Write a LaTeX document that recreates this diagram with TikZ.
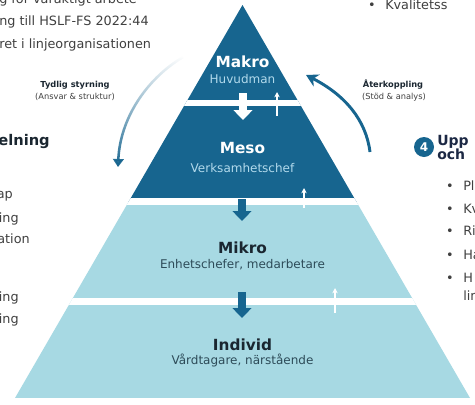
\documentclass[tikz,border=0pt]{standalone}
\usepackage{fontspec}
\setmainfont{DejaVu Sans}
\usetikzlibrary{arrows.meta,fadings}
\definecolor{pyrdark}{RGB}{23,101,143}
\definecolor{pyrlight}{RGB}{167,217,227}
\definecolor{sidetext}{RGB}{64,64,64}
\definecolor{subdark}{RGB}{178,218,236}
\definecolor{sublight}{RGB}{45,75,88}
\definecolor{headtext}{RGB}{26,38,48}
\definecolor{navy}{RGB}{28,40,68}

\begin{document}
\begin{tikzpicture}[x=0.75pt,y=-0.75pt,
  side/.style={text=sidetext,font=\fontsize{9.6}{11}\selectfont,inner sep=0pt},
  level/.style={font=\bfseries\fontsize{11.5}{13}\selectfont,inner sep=0pt,anchor=base},
  sub/.style={font=\fontsize{9}{11}\selectfont,inner sep=0pt,anchor=base},
  small/.style={font=\fontsize{6.2}{7}\selectfont,inner sep=0pt},
  blockarrow/.style={line width=6pt,-{Triangle[width=14pt,length=7.5pt]}},
  thinup/.style={white,line width=1pt,-{Stealth[length=4pt,width=4pt]}}]
\useasboundingbox (0,0) rectangle (475,404);
\fill[white] (0,0) rectangle (475,404);

%pyramid
\begin{scope}
\clip (242.5,5) -- (470,398) -- (15,398) -- cycle;
\fill[pyrdark] (0,0) rectangle (475,201.5);
\fill[pyrlight] (0,201.5) rectangle (475,398);
\draw[white,line width=4.9pt] (0,103) -- (475,103);
\draw[white,line width=4.9pt] (0,201.5) -- (475,201.5);
\draw[white,line width=4.9pt] (0,301.5) -- (475,301.5);
\end{scope}

%level labels
\node[level,white] (makro) at (242.5,67) {Makro};
\node[sub,subdark] (huvudman) at (242.5,83) {Huvudman};
\node[level,white] (meso) at (242.5,153) {Meso};
\node[sub,subdark] (vchef) at (242.5,172) {Verksamhetschef};
\node[level,headtext] (mikro) at (242.5,253) {Mikro};
\node[sub,sublight] (ehchef) at (242.5,268) {Enhetschefer, medarbetare};
\node[level,headtext] (individ) at (242.5,350) {Individ};
\node[sub,sublight] (vtagare) at (242.5,364) {Vårdtagare, närstående};

%down arrows
\coordinate (d1a) at (243,93);  \coordinate (d1b) at (243,120);
\coordinate (d2a) at (242,199); \coordinate (d2b) at (242,221);
\coordinate (d3a) at (242,292); \coordinate (d3b) at (242,318);
\draw[blockarrow,white] (d1a) -- (d1b);
\draw[blockarrow,pyrdark] (d2a) -- (d2b);
\draw[blockarrow,pyrdark] (d3a) -- (d3b);

%up arrows
\coordinate (u1a) at (277,116); \coordinate (u1b) at (277,92);
\coordinate (u2a) at (304,208); \coordinate (u2b) at (304,188);
\coordinate (u3a) at (335,313); \coordinate (u3b) at (335,288);
\draw[thinup] (u1a) -- (u1b);
\draw[thinup] (u2a) -- (u2b);
\draw[thinup] (u3a) -- (u3b);

%curved arrows
\coordinate (styrA) at (183,57);
\coordinate (styrB) at (118,167);
\draw[pyrdark,line width=1.9pt,path fading=north,-{Triangle[width=8pt,length=6pt]}]
  (styrA) .. controls (145,80) and (120,120) .. (styrB);
\coordinate (aterA) at (370,152);
\coordinate (aterB) at (306,75);
\draw[pyrdark,line width=2.2pt,-{Stealth[width=10pt,length=9pt]}]
  (aterA) .. controls (366,120) and (345,95) .. (aterB);
\node[small,font=\bfseries\fontsize{6.2}{7}\selectfont,text=headtext] (tydlig) at (75,85) {Tydlig styrning};
\node[small,text=sidetext] (ansvar) at (75,97) {(Ansvar \& struktur)};
\node[small,font=\bfseries\fontsize{6.2}{7}\selectfont,text=headtext] (ater) at (393,85) {Återkoppling};
\node[small,text=sidetext] (stod) at (394,97) {(Stöd \& analys)};

%left text
\node[side,anchor=base west] (l1) at (-1,3) {g för varaktigt arbete};
\node[side,anchor=base west] (l2) at (-1,25) {ng till HSLF-FS 2022:44};
\node[side,anchor=base west] (l3) at (-1,48) {ret i linjeorganisationen};
\node[side,anchor=base east,text=headtext,font=\bfseries\fontsize{11}{13}\selectfont] (delning) at (50,145) {delning};
\node[side,anchor=base east] (f1) at (13,198) {ap};
\node[side,anchor=base east] (f2) at (19,222) {ing};
\node[side,anchor=base east] (f3) at (30,243) {ation};
\node[side,anchor=base east] (f4) at (19,301) {ing};
\node[side,anchor=base east] (f5) at (19,323) {ing};

%right text
\node[side,anchor=base] (b0) at (372,9) {•};
\node[side,anchor=base west] (kval) at (385,9) {Kvalitetss};
\node[circle,fill=pyrdark,minimum size=15pt,inner sep=0pt,text=white,font=\bfseries\fontsize{9}{10}\selectfont] (badge) at (424,147) {4};
\node[side,anchor=base west,text=navy,font=\bfseries\fontsize{10.5}{12}\selectfont] (upp) at (437,145) {Upp};
\node[side,anchor=base west,text=navy,font=\bfseries\fontsize{10.5}{12}\selectfont] (och) at (437,159) {och};
\node[side,anchor=base] (b1) at (450,190) {•};
\node[side,anchor=base west] (r1) at (463,190) {Pl};
\node[side,anchor=base] (b2) at (450,213) {•};
\node[side,anchor=base west] (r2) at (463,213) {Kv};
\node[side,anchor=base] (b3) at (450,235) {•};
\node[side,anchor=base west] (r3) at (463,235) {Ri};
\node[side,anchor=base] (b4) at (450,259) {•};
\node[side,anchor=base west] (r4) at (463,259) {Ha};
\node[side,anchor=base] (b5) at (450,282) {•};
\node[side,anchor=base west] (r5) at (463,282) {H};
\node[side,anchor=base west] (r6) at (463,300) {lin};
\end{tikzpicture}
\end{document}
